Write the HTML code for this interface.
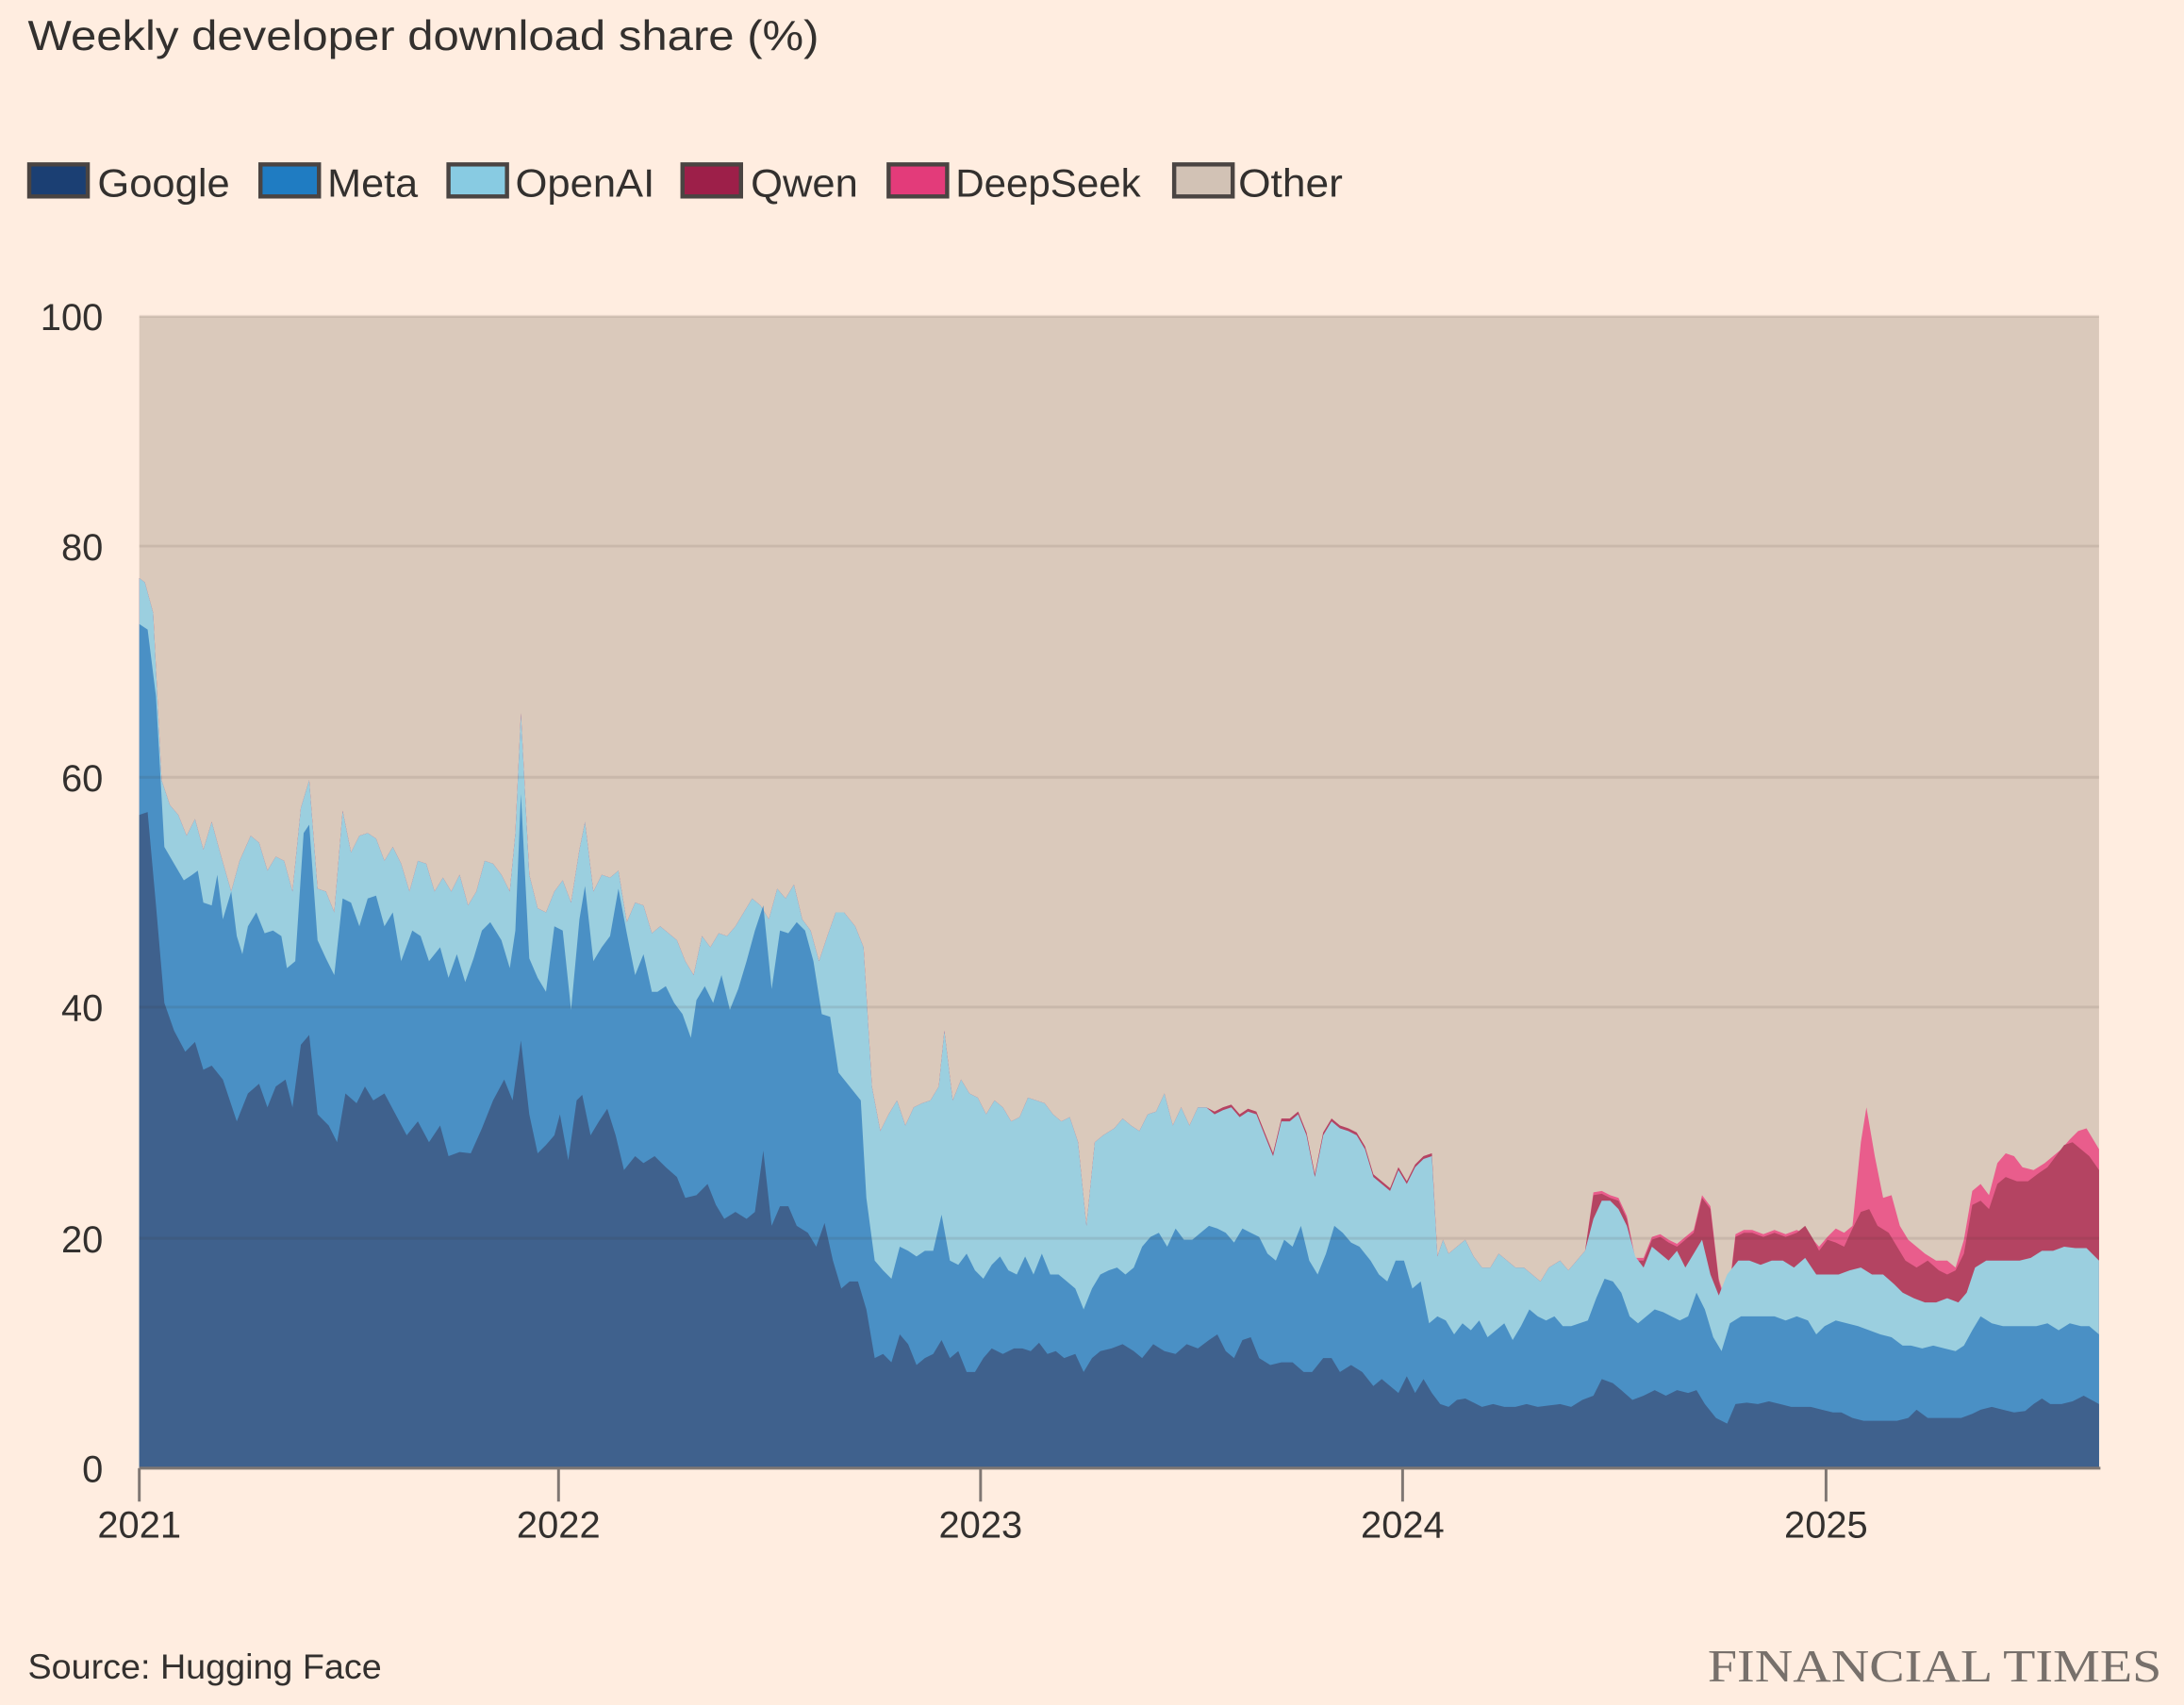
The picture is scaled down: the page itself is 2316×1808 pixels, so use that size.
<!DOCTYPE html>
<html><head><meta charset="utf-8"><style>
html,body{margin:0;padding:0;background:#ffede0;}
svg{display:block}
text{font-family:"Liberation Sans",sans-serif;fill:#33302e}
</style></head><body>
<svg id="s" width="2316" height="1808" viewBox="0 0 1568 1224" xmlns="http://www.w3.org/2000/svg">
<rect width="1568" height="1224" fill="#ffede0"/>
<text x="20" y="36" font-size="30" textLength="568" lengthAdjust="spacingAndGlyphs">Weekly developer download share (%)</text>
<g font-size="28">
<rect x="21" y="118" width="42" height="23" fill="#1b3f73" stroke="#4a4442" stroke-width="3"/><text x="70" y="141" textLength="95" lengthAdjust="spacingAndGlyphs">Google</text>
<rect x="187" y="118" width="42" height="23" fill="#1f7cc2" stroke="#4a4442" stroke-width="3"/><text x="235" y="141" textLength="65" lengthAdjust="spacingAndGlyphs">Meta</text>
<rect x="322" y="118" width="42" height="23" fill="#88cbe2" stroke="#4a4442" stroke-width="3"/><text x="370" y="141" textLength="100" lengthAdjust="spacingAndGlyphs">OpenAI</text>
<rect x="490" y="118" width="42" height="23" fill="#9d1f49" stroke="#4a4442" stroke-width="3"/><text x="539" y="141" textLength="77" lengthAdjust="spacingAndGlyphs">Qwen</text>
<rect x="638" y="118" width="42" height="23" fill="#e33b7a" stroke="#4a4442" stroke-width="3"/><text x="686" y="141" textLength="133" lengthAdjust="spacingAndGlyphs">DeepSeek</text>
<rect x="843" y="118" width="42" height="23" fill="#d2c2b5" stroke="#4a4442" stroke-width="3"/><text x="889" y="141" textLength="75" lengthAdjust="spacingAndGlyphs">Other</text>
</g>
<rect x="100" y="227" width="1407" height="827" fill="#dac9bb"/>
<g id="areas"></g>
<g stroke="rgba(60,40,30,0.1)" stroke-width="2">
<line x1="100" x2="1507" y1="227" y2="227"/><line x1="100" x2="1507" y1="392" y2="392"/>
<line x1="100" x2="1507" y1="558" y2="558"/><line x1="100" x2="1507" y1="723" y2="723"/>
<line x1="100" x2="1507" y1="889" y2="889"/>
</g>
<line x1="100" x2="1508" y1="1054" y2="1054" stroke="#7f7773" stroke-width="2"/>
<g stroke="#7f7773" stroke-width="2">
<line x1="100" x2="100" y1="1054" y2="1078"/><line x1="401" x2="401" y1="1054" y2="1078"/>
<line x1="704" x2="704" y1="1054" y2="1078"/><line x1="1007" x2="1007" y1="1054" y2="1078"/>
<line x1="1311" x2="1311" y1="1054" y2="1078"/>
</g>
<g font-size="27" text-anchor="end">
<text x="74" y="237">100</text><text x="74" y="402">80</text><text x="74" y="568">60</text>
<text x="74" y="733">40</text><text x="74" y="899">20</text><text x="74" y="1064">0</text>
</g>
<g font-size="27" text-anchor="middle">
<text x="100" y="1104">2021</text><text x="401" y="1104">2022</text><text x="704" y="1104">2023</text>
<text x="1007" y="1104">2024</text><text x="1311" y="1104">2025</text>
</g>
<text x="20" y="1205" font-size="25" textLength="254" lengthAdjust="spacingAndGlyphs">Source: Hugging Face</text>
<text x="1552" y="1207" font-size="33" text-anchor="end" style="font-family:'Liberation Serif',serif;fill:#77706b" textLength="326" lengthAdjust="spacingAndGlyphs">FINANCIAL TIMES</text>
</svg>
<script>
function P(s){return s.trim().split(/;\s*/).filter(Boolean).map(p=>p.split(',').map(Number));}
var G=P("100,585;106,583;112,650;118,720;125,740;133,755;140,748;146,768;152,765;160,775;170,805;178,785;186,778;192,795;198,780;205,775;210,795;216,750;222,743;228,800;236,808;242,820;248,785;256,792;262,780;268,790;276,785;284,800;292,815;300,805;308,820;316,808;322,830;330,827;338,828;346,810;354,790;362,775;368,790;374,747;380,800;386,828;392,822;398,815;402,800;408,833;414,790;418,786;424,815;430,805;436,796;442,815;448,840;456,830;462,835;470,830;478,838;486,845;492,860;500,858;508,850;514,865;520,875;528,870;536,875;542,870;548,826;554,880;560,866;566,866;572,880;580,885;586,895;592,878;598,905;604,925;610,920;616,920;622,940;628,975;634,972;640,978;646,958;652,965;658,980;664,975;670,972;676,962;682,975;688,970;694,985;700,985;706,975;712,968;720,972;728,968;734,968;740,970;746,964;752,972;758,970;764,975;772,972;778,985;784,975;790,970;798,968;806,965;814,970;820,975;828,965;836,970;844,972;852,965;860,968;868,962;874,958;880,970;886,975;892,962;898,960;904,975;912,980;920,978;928,978;936,985;942,985;950,975;956,975;962,985;970,980;978,985;986,995;992,990;998,995;1004,1000;1010,988;1016,1000;1022,990;1028,1000;1034,1008;1040,1010;1046,1005;1052,1004;1058,1007;1064,1010;1072,1008;1080,1010;1088,1010;1096,1008;1104,1010;1112,1009;1120,1008;1128,1010;1136,1005;1144,1002;1150,990;1158,993;1164,998;1172,1005;1180,1002;1188,998;1196,1002;1204,998;1212,1000;1218,998;1224,1008;1232,1018;1240,1022;1246,1008;1254,1007;1262,1008;1270,1006;1278,1008;1286,1010;1294,1010;1300,1010;1308,1012;1316,1014;1322,1014;1330,1018;1338,1020;1346,1020;1354,1020;1362,1020;1370,1018;1376,1012;1384,1018;1392,1018;1400,1018;1408,1018;1416,1015;1422,1012;1430,1010;1438,1012;1446,1014;1454,1013;1460,1008;1466,1004;1472,1008;1480,1008;1488,1006;1496,1002;1507,1008");
var M=P("100,448;106,452;112,500;118,608;125,620;132,632;138,628;142,625;146,648;152,650;156,628;160,660;166,640;170,672;174,685;178,665;184,655;190,670;196,668;202,672;206,695;212,690;218,598;222,592;228,675;234,688;240,700;246,645;252,648;258,665;264,645;270,643;276,665;282,655;288,690;296,668;302,672;308,690;316,680;322,702;328,685;334,705;340,688;346,668;352,662;360,675;366,695;370,668;374,570;380,688;386,702;392,712;398,665;404,668;410,725;416,660;420,636;426,690;432,680;438,672;444,638;450,670;456,700;462,685;468,712;472,712;478,708;484,720;490,728;496,745;500,718;506,708;512,720;518,700;524,725;530,710;536,690;542,668;548,650;554,710;560,668;566,670;572,662;578,668;584,690;590,728;596,730;602,770;610,780;618,790;622,860;628,905;634,912;640,918;646,895;652,898;658,902;664,898;670,898;676,872;682,905;688,908;694,900;700,912;706,918;712,908;718,902;724,912;730,915;736,902;742,915;748,900;754,915;760,915;766,920;772,925;778,940;784,925;790,915;796,912;802,910;808,915;814,910;820,895;826,888;832,885;838,895;844,882;850,890;856,890;862,885;868,880;874,882;880,885;886,892;892,882;898,885;904,888;910,900;916,905;922,890;928,895;934,880;940,905;946,915;952,900;958,880;964,885;970,892;976,895;984,905;990,915;996,920;1002,905;1008,905;1014,925;1020,920;1026,950;1032,945;1038,948;1044,958;1050,950;1056,955;1062,948;1068,960;1074,955;1080,950;1086,962;1092,952;1098,940;1104,945;1110,948;1116,945;1122,952;1128,952;1134,950;1140,948;1146,932;1152,918;1158,920;1164,928;1170,945;1176,950;1182,945;1188,940;1194,942;1200,945;1206,948;1212,945;1218,928;1224,940;1230,960;1236,970;1242,950;1250,945;1258,945;1266,945;1274,945;1282,948;1290,945;1298,948;1304,958;1310,952;1318,948;1326,950;1334,952;1342,955;1350,958;1358,960;1366,966;1372,966;1380,968;1388,966;1396,968;1404,970;1410,966;1416,955;1422,945;1430,950;1438,952;1446,952;1454,952;1462,952;1470,950;1478,955;1486,950;1494,952;1500,952;1507,958");
var O=P("100,415;104,418;110,440;116,560;122,578;128,585;134,600;140,588;146,610;152,590;158,612;166,640;172,618;180,600;186,605;192,625;198,615;204,618;210,640;216,580;222,560;228,638;234,640;240,655;246,582;252,612;258,600;264,598;270,602;276,618;282,608;288,620;294,640;300,618;306,620;312,640;318,630;324,640;330,628;336,650;342,640;348,618;354,620;360,628;366,640;370,598;374,512;380,628;386,652;392,655;398,640;404,632;410,648;416,610;420,590;426,640;432,628;438,630;444,625;450,662;456,648;462,650;468,670;474,665;480,670;486,675;492,690;498,700;504,672;510,680;516,670;522,672;528,665;534,655;540,645;546,650;552,660;558,638;564,645;570,635;576,660;582,668;588,690;594,672;600,655;606,655;614,665;620,680;626,780;632,812;638,800;644,790;650,808;656,795;662,792;668,790;674,780;678,740;684,790;690,775;696,785;702,788;708,800;714,790;720,795;726,805;732,802;738,788;744,790;750,792;756,800;762,805;768,802;774,820;780,880;786,820;792,815;800,810;806,803;812,808;818,812;824,800;830,798;836,785;842,808;848,795;854,808;860,795;866,795;872,800;878,797;884,795;890,802;896,798;902,800;908,815;914,830;920,805;926,805;932,800;938,815;944,845;950,815;956,805;962,810;968,812;974,815;980,825;986,845;992,850;998,855;1004,840;1010,850;1016,838;1022,832;1028,830;1032,902;1036,890;1040,900;1046,895;1052,890;1058,902;1064,910;1070,910;1076,900;1082,905;1088,910;1094,910;1100,915;1106,920;1112,910;1120,905;1126,912;1132,905;1138,898;1144,875;1150,862;1156,862;1162,868;1168,880;1174,902;1180,910;1186,895;1192,900;1198,905;1204,898;1210,910;1216,900;1222,890;1228,915;1234,930;1240,915;1248,905;1256,905;1264,908;1272,905;1280,905;1288,910;1296,903;1304,915;1312,915;1320,915;1328,912;1336,910;1344,915;1352,915;1360,922;1366,928;1374,932;1382,935;1390,935;1398,932;1406,935;1412,928;1418,910;1426,905;1434,905;1442,905;1450,905;1458,903;1466,898;1474,898;1482,895;1490,896;1498,896;1507,905");
var Qs=P("1144,858;1150,857;1156,860;1162,862;1168,875;1174,905;1180,905;1186,890;1192,888;1198,892;1204,895;1210,890;1216,885;1222,860;1228,868;1234,920;1240,940;1246,888;1252,885;1258,885;1266,888;1274,885;1282,888;1290,885;1296,880;1302,890;1306,898;1312,890;1318,892;1324,895;1330,882;1336,870;1342,868;1348,880;1356,885;1362,895;1368,905;1376,910;1384,905;1392,912;1398,915;1404,912;1410,900;1416,865;1422,862;1428,868;1434,850;1440,845;1448,848;1456,848;1464,842;1470,838;1476,830;1482,822;1488,820;1494,825;1500,830;1507,840");
var Ds=P("1300,888;1306,895;1312,888;1318,882;1324,885;1330,880;1336,820;1340,795;1346,830;1352,860;1358,858;1364,880;1370,890;1376,895;1382,900;1390,905;1398,905;1404,910;1410,890;1416,855;1422,850;1428,858;1434,835;1440,828;1446,830;1452,838;1460,840;1468,835;1474,830;1480,825;1486,818;1492,812;1498,810;1504,820;1507,825");
var Q=O.filter(p=>p[0]<1140).map(p=>[p[0],(p[0]>870&&p[0]<1030)?p[1]-2:p[1]]).concat(Qs);
var D=Q.filter(p=>p[0]<1296).map(p=>[p[0],p[0]>1140?p[1]-2:p[1]]).concat(Ds);
function path(a,c){return '<path fill="'+c+'" d="M100,1054L'+a.map(p=>p.join(',')).join('L')+'L1507,1054Z"/>';}
document.getElementById('areas').innerHTML=path(D,'#e95d8c')+path(Q,'#b44462')+path(O,'#9bcfdf')+path(M,'#4a90c5')+path(G,'#3f618d');
</script>
</body></html>
